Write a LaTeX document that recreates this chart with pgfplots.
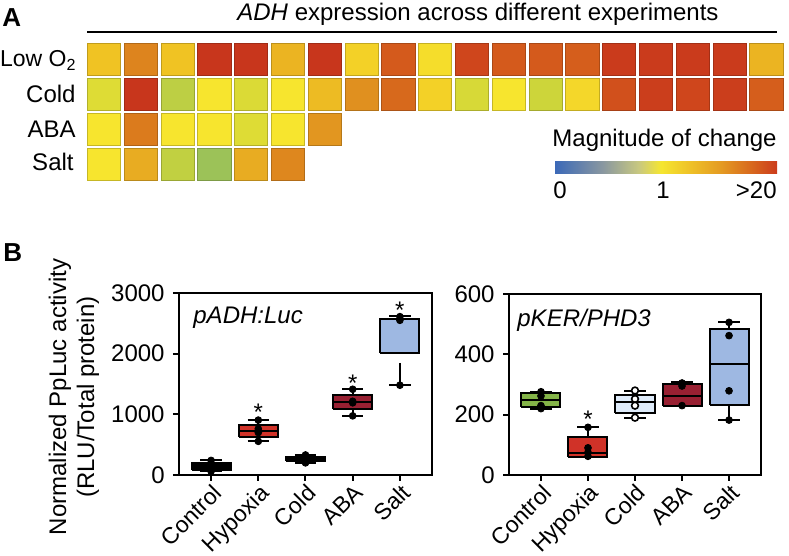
\documentclass[border=0pt]{standalone}
\usepackage{fontspec}
\setmainfont{Liberation Sans}
\usepackage{pgfplots}
\pgfplotsset{compat=1.18}

\definecolor{cgreen}{RGB}{132,180,72}
\definecolor{cred}{RGB}{208,50,40}
\definecolor{cltblue}{RGB}{222,235,250}
\definecolor{cdred}{RGB}{152,32,50}
\definecolor{cblue}{RGB}{158,184,226}

\pgfplotsset{
  colormap={cells}{rgb255(0cm)=(58,108,184) rgb255(4.5cm)=(135,145,140) rgb255(7.5cm)=(152,192,90) rgb255(8.8cm)=(205,213,58) rgb255(10cm)=(247,229,46) rgb255(12cm)=(240,195,35) rgb255(13.5cm)=(232,172,34) rgb255(15.5cm)=(222,135,30) rgb255(17.5cm)=(214,100,28) rgb255(19cm)=(207,70,28) rgb255(20cm)=(200,54,28)},
  colormap={cbar}{rgb255(0cm)=(58,104,184) rgb255(4.4cm)=(138,152,160) rgb255(7.6cm)=(200,200,128) rgb255(9.6cm)=(245,230,48) rgb255(12cm)=(239,196,40) rgb255(15cm)=(228,154,34) rgb255(17.6cm)=(216,106,30) rgb255(20cm)=(204,60,28)},
  boxax/.style={
    scale only axis, xmin=0.32, xmax=5.68,
    xtick={1,2,3,4,5}, xticklabels={Control,Hypoxia,Cold,ABA,Salt},
    xticklabel style={rotate=45, anchor=north east, inner sep=0.5pt, font=\fontsize{11.5}{13}\selectfont},
    tick align=outside, tick pos=left, major tick length=3pt,
    axis line style={line width=1pt}, tick style={line width=1pt, black},
    scaled y ticks=false,
    /pgf/number format/assume math mode=true, /pgf/number format/1000 sep={},
    yticklabel style={font=\fontsize{12}{14}\selectfont},
    clip=false,
  },
  dots/.style={only marks, mark=*, mark size=1.7pt, black},
}

% box: position, lower whisker, lower quartile, median, upper quartile, upper whisker, fill
\newcommand{\bbox}[7]{%
  \pgfmathsetmacro\bxl{#1-0.415}\pgfmathsetmacro\bxr{#1+0.415}%
  \pgfmathsetmacro\wxl{#1-0.225}\pgfmathsetmacro\wxr{#1+0.225}%
  \addplot[black, line width=1pt] coordinates {(#1,#2) (#1,#3)};
  \addplot[black, line width=1pt] coordinates {(#1,#5) (#1,#6)};
  \addplot[black, line width=1pt] coordinates {(\wxl,#2) (\wxr,#2)};
  \addplot[black, line width=1pt] coordinates {(\wxl,#6) (\wxr,#6)};
  \addplot[black, line width=1pt, fill=#7, line join=miter] coordinates {(\bxl,#3) (\bxr,#3) (\bxr,#5) (\bxl,#5) (\bxl,#3)};
  \addplot[black, line width=1pt] coordinates {(\bxl,#4) (\bxr,#4)};
}

\begin{document}
\fontsize{12}{14}\selectfont
\begin{tikzpicture}
\path[use as bounding box] (0,0) rectangle (394.5pt,278pt);

% ---------------- Panel A: heatmap ----------------
\node[anchor=base west, inner sep=0, font=\fontsize{13}{15}\selectfont\bfseries] at (1pt,264.5pt) {A};
\node[anchor=base west, inner sep=0] at (118.5pt,267.5pt) {\textit{ADH} expression across different experiments};
\draw[line width=1pt] (43.5pt,262pt) -- (388.5pt,262pt);

\node[anchor=base east, inner sep=0, font=\fontsize{11.5}{13}\selectfont] at (38.5pt,244.5pt) {Low O\textsubscript{2}};
\node[anchor=base east, inner sep=0] at (38pt,226.5pt) {Cold};
\node[anchor=base east, inner sep=0] at (38pt,209pt) {ABA};
\node[anchor=base east, inner sep=0] at (37pt,192.5pt) {Salt};

\begin{axis}[
  at={(43.5pt,256.5pt)}, anchor=north west,
  scale only axis, width=345pt, height=69pt,
  xmin=0.538, xmax=19.288, ymin=0.5286, ymax=4.4714,
  hide axis,
  colormap name=cbar,
  point meta min=0, point meta max=2,
  colorbar horizontal,
  colorbar style={at={(parent axis.south west)}, anchor=south west,
    xshift=233.5pt, yshift=12.4pt, scale only axis,
    width=111.5pt, height=6pt, xtick=\empty, axis line style={draw=none}},
]
\addplot[colormap name=cells, scatter, only marks, mark=square*, mark size=8.3pt,
  point meta=explicit, mark options={yscale=0.96}] table[meta=c] {
x y c
1 4 1.2
2 4 1.57
3 4 1.2
4 4 2.0
5 4 2.0
6 4 1.3
7 4 2.0
8 4 1.12
9 4 1.8
10 4 1.05
11 4 1.9
12 4 1.8
13 4 1.8
14 4 1.78
15 4 1.97
16 4 1.97
17 4 1.97
18 4 1.97
19 4 1.3
1 3 0.93
2 3 2.0
3 3 0.84
4 3 1.0
5 3 0.92
6 3 1.0
7 3 1.25
8 3 1.5
9 3 1.72
10 3 1.12
11 3 0.91
12 3 1.0
13 3 0.88
14 3 1.08
15 3 1.85
16 3 1.95
17 3 1.9
18 3 1.95
19 3 1.78
1 2 1.0
2 2 1.62
3 2 1.0
4 2 1.0
5 2 0.93
6 2 1.0
7 2 1.47
1 1 1.0
2 1 1.35
3 1 0.85
4 1 0.76
5 1 1.35
6 1 1.55
};
\end{axis}

\node[anchor=base east, inner sep=0] at (388.5pt,204.5pt) {Magnitude of change};
\node[anchor=base, inner sep=0] at (280pt,178.5pt) {0};
\node[anchor=base, inner sep=0] at (331.5pt,178.5pt) {1};
\node[anchor=base east, inner sep=0] at (388.5pt,178.5pt) {>20};

% ---------------- Panel B ----------------
\node[anchor=base west, inner sep=0, font=\fontsize{13}{15}\selectfont\bfseries] at (1.5pt,147pt) {B};
\node[rotate=90, align=center, inner sep=0, font=\fontsize{12}{14}\selectfont] at (37pt,79.5pt) {Normalized PpLuc activity\\(RLU/Total protein)};

\begin{axis}[boxax, at={(89.5pt,40.5pt)}, anchor=south west,
  width=126.5pt, height=91pt, ymin=0, ymax=3000, ytick={0,1000,2000,3000}]
\bbox{1}{60}{90}{145}{195}{240}{black}
\bbox{2}{555}{631}{730}{823}{905}{cred}
\bbox{3}{200}{232}{265}{300}{330}{black}
\bbox{4}{975}{1085}{1195}{1315}{1413}{cdred}
\bbox{5}{2003}{2003}{2565}{2570}{2615}{cblue}
\addplot[black, line width=0.6pt] coordinates {(5,1849) (5,1480)};
\addplot[black, line width=1pt] coordinates {(4.775,1480) (5.225,1480)};
\addplot[dots] coordinates {(1,60) (1,120) (1,170) (1,240)};
\addplot[dots] coordinates {(2,555) (2,700) (2,760) (2,905)};
\addplot[dots] coordinates {(3,200) (3,250) (3,280) (3,330)};
\addplot[dots] coordinates {(4,975) (4,1190) (4,1215) (4,1413)};
\addplot[dots] coordinates {(5,1480) (5,2550) (5,2610)};
\node[anchor=base, inner sep=0] at (axis cs:2,900) {*};
\node[anchor=base, inner sep=0] at (axis cs:4,1380) {*};
\node[anchor=base, inner sep=0] at (axis cs:5,2580) {*};
\end{axis}
\node[anchor=base west, inner sep=0] at (96.5pt,116.3pt) {\itshape pADH:Luc};

\begin{axis}[boxax, at={(254.5pt,40.5pt)}, anchor=south west,
  width=126pt, height=90.5pt, ymin=0, ymax=600, ytick={0,200,400,600}]
\bbox{1}{219}{224}{249}{271}{276}{cgreen}
\bbox{2}{61}{61}{74}{125}{158}{cred}
\bbox{3}{190}{207}{241}{265}{280}{cltblue}
\bbox{4}{229}{229}{263}{300}{307}{cdred}
\bbox{5}{182}{232}{368}{484}{506}{cblue}
\addplot[dots] coordinates {(1,276) (1,262) (1,230) (1,220)};
\addplot[dots] coordinates {(2,158) (2,90) (2,75) (2,62)};
\addplot[only marks, mark=*, mark size=1.7pt, black, mark options={fill=white, line width=0.8pt}] coordinates {(3,280) (3,252) (3,230) (3,190)};
\addplot[dots] coordinates {(4,305) (4,295) (4,230)};
\addplot[dots] coordinates {(5,506) (5,462) (5,279) (5,182)};
\node[anchor=base, inner sep=0] at (axis cs:2,157) {*};
\end{axis}
\node[anchor=base west, inner sep=0] at (258.5pt,114.5pt) {\itshape pKER/PHD3};

\end{tikzpicture}
\end{document}
